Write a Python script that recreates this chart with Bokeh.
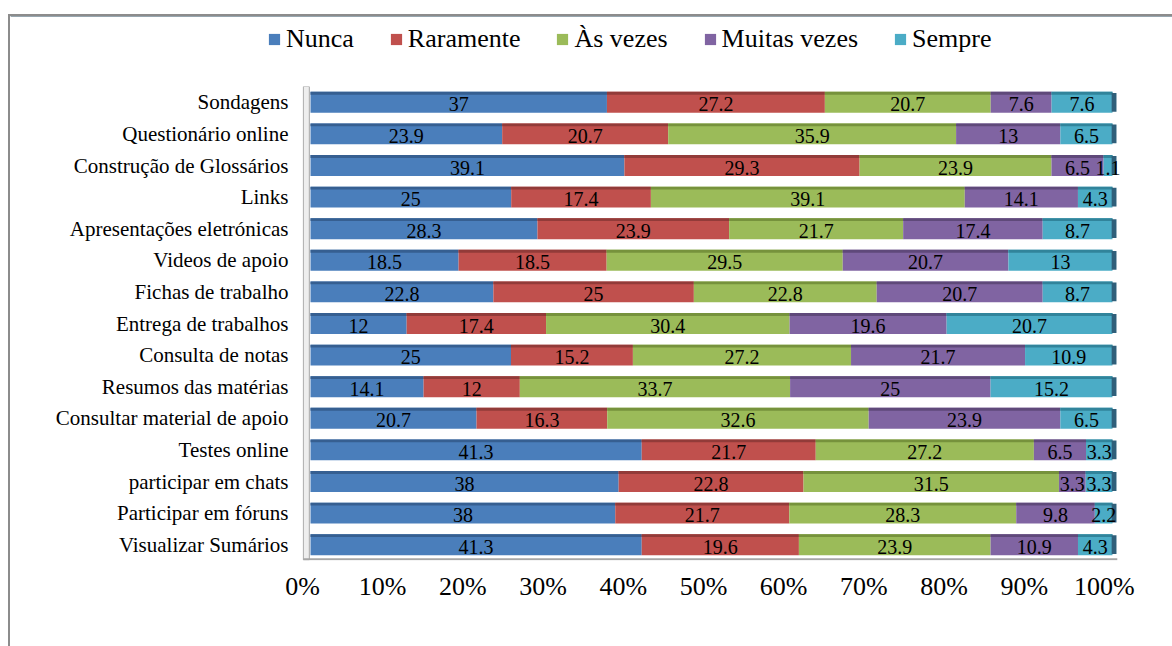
from bokeh.plotting import figure
from bokeh.layouts import column
from bokeh.models import (FactorRange, Range1d, LinearAxis, FixedTicker,
                          PrintfTickFormatter, Legend, LegendItem, ColumnDataSource)
from bokeh.core.properties import value
from bokeh.embed import file_html
from bokeh.resources import INLINE

# Activities, listed top to bottom as they appear on the chart
categories = [
    "Sondagens",
    "Questionário online",
    "Construção de Glossários",
    "Links",
    "Apresentações eletrónicas",
    "Videos de apoio",
    "Fichas de trabalho",
    "Entrega de trabalhos",
    "Consulta de notas",
    "Resumos das matérias",
    "Consultar material de apoio",
    "Testes online",
    "participar em chats",
    "Participar em fóruns",
    "Visualizar Sumários",
]

# Percentage of answers per frequency level
nunca        = [37, 23.9, 39.1, 25, 28.3, 18.5, 22.8, 12, 25, 14.1, 20.7, 41.3, 38, 38, 41.3]
raramente    = [27.2, 20.7, 29.3, 17.4, 23.9, 18.5, 25, 17.4, 15.2, 12, 16.3, 21.7, 22.8, 21.7, 19.6]
as_vezes     = [20.7, 35.9, 23.9, 39.1, 21.7, 29.5, 22.8, 30.4, 27.2, 33.7, 32.6, 27.2, 31.5, 28.3, 23.9]
muitas_vezes = [7.6, 13, 6.5, 14.1, 17.4, 20.7, 20.7, 19.6, 21.7, 25, 23.9, 6.5, 3.3, 9.8, 10.9]
sempre       = [7.6, 6.5, 1.1, 4.3, 8.7, 13, 8.7, 20.7, 10.9, 15.2, 6.5, 3.3, 3.3, 2.2, 4.3]

series_names = ["Nunca", "Raramente", "Às vezes", "Muitas vezes", "Sempre"]
series_values = [nunca, raramente, as_vezes, muitas_vezes, sempre]
colors = ["#4a7ebb", "#c0504d", "#9bbb59", "#8064a2", "#4bacc6"]
top_colors = ["#365f91", "#923b39", "#76923c", "#5f497a", "#31849b"]

tick_values = [0, 10, 20, 30, 40, 50, 60, 70, 80, 90, 100]

FONT = "Liberation Serif"
BAR_H = 0.66
STRIP_H = 0.09

factors = list(reversed(categories))  # bottom row first on a factor range
row_center = {c: factors.index(c) + 0.5 for c in categories}

# ---- main chart -------------------------------------------------------------
p = figure(
    width=1162, height=560,
    y_range=FactorRange(factors=factors, range_padding=0),
    x_range=Range1d(-1, 101.5),
    x_axis_location=None,
    output_backend="svg", toolbar_location=None,
    min_border_left=292, min_border_right=48,
    min_border_top=0, min_border_bottom=86,
)
p.outline_line_color = None
p.xgrid.visible = False
p.ygrid.visible = False
p.background_fill_color = "white"
p.border_fill_color = "white"

# side wall and floor of the 3-D box
p.quad(left=-0.9, right=-0.15, bottom=0.02, top=15, fill_color="#eeeeee",
       line_color="#a6a6a6", line_width=1)
p.segment(x0=-0.9, y0=0.04, x1=100.6, y1=0.04, line_color="#a6a6a6", line_width=2)

totals = [sum(vals) for vals in zip(*series_values)]
left = [0.0] * len(categories)
for name, vals, col, tcol in zip(series_names, series_values, colors, top_colors):
    shares = [v / t * 100 for v, t in zip(vals, totals)]
    right = [l + s for l, s in zip(left, shares)]
    src = ColumnDataSource(dict(
        y=categories,
        left=left,
        right=right,
        ytop=[row_center[c] + BAR_H / 2 - STRIP_H / 2 for c in categories],
    ))
    p.hbar(y="y", left="left", right="right", height=BAR_H, source=src,
           fill_color=col, line_color=None)
    p.hbar(y="ytop", left="left", right="right", height=STRIP_H, source=src,
           fill_color=tcol, line_color=None)
    left = right

# rounded dark end cap on each bar
p.hbar(y=categories, left=[99.9] * len(categories), right=[100.5] * len(categories),
       height=BAR_H * 0.9, fill_color="#2f5f7a", line_color=None)

# labels drawn after all segments so they sit on top
left = [0.0] * len(categories)
for vals in series_values:
    shares = [v / t * 100 for v, t in zip(vals, totals)]
    right = [l + s for l, s in zip(left, shares)]
    p.text(x=[(l + r) / 2 for l, r in zip(left, right)], y=categories,
           text=[f"{v:g}" for v in vals], text_align="center",
           text_baseline="middle", y_offset=2,
           text_font=value(FONT), text_font_size="20px", text_color="black")
    left = right

# percentage axis, labels set slightly ahead of the bar face
p.extra_x_ranges = {"lab": Range1d(0, 102.5)}
xaxis = LinearAxis(x_range_name="lab", ticker=FixedTicker(ticks=tick_values),
                   formatter=PrintfTickFormatter(format="%d%%"))
xaxis.axis_line_color = None
xaxis.major_tick_line_color = None
xaxis.minor_tick_line_color = None
xaxis.major_tick_out = 0
xaxis.major_label_text_font = FONT
xaxis.major_label_text_font_size = "26px"
xaxis.major_label_text_color = "black"
xaxis.major_label_standoff = 11
p.add_layout(xaxis, "below")

yaxis = p.yaxis[0]
yaxis.axis_line_color = None
yaxis.major_tick_line_color = None
yaxis.minor_tick_line_color = None
yaxis.major_tick_out = 0
yaxis.major_label_standoff = 14
yaxis.major_label_text_font = FONT
yaxis.major_label_text_font_size = "21px"
yaxis.major_label_text_color = "black"

# ---- legend strip above the chart ------------------------------------------
lg = figure(
    width=1162, height=70,
    x_range=Range1d(0, 1), y_range=Range1d(0, 1),
    x_axis_location=None, y_axis_location=None,
    output_backend="svg", toolbar_location=None,
    min_border=0,
)
lg.frame_align = False
lg.outline_line_color = None
lg.xgrid.visible = False
lg.ygrid.visible = False
lg.border_fill_color = "white"

# swatch renderers sit outside the visible range; only their legend glyphs show
swatches = [lg.hbar(y=[5], left=[0], right=[1], height=1, fill_color=c, line_color=None)
            for c in colors]
legend = Legend(
    items=[LegendItem(label=n, renderers=[r]) for n, r in zip(series_names, swatches)],
    orientation="horizontal", location=(257, 32),
    glyph_width=14, glyph_height=14, label_standoff=5, spacing=35,
    label_text_font=FONT, label_text_font_size="26px", label_text_color="black",
    padding=0, margin=0, border_line_color=None, background_fill_alpha=0,
)
lg.add_layout(legend, "center")

page = column(lg, p, spacing=0)
page.margin = (14, 0, 0, 8)
page.styles = {"border-top": "2px solid #8c8c8c", "border-left": "2px solid #8c8c8c"}

open("out.html", "w").write(file_html(page, INLINE))
